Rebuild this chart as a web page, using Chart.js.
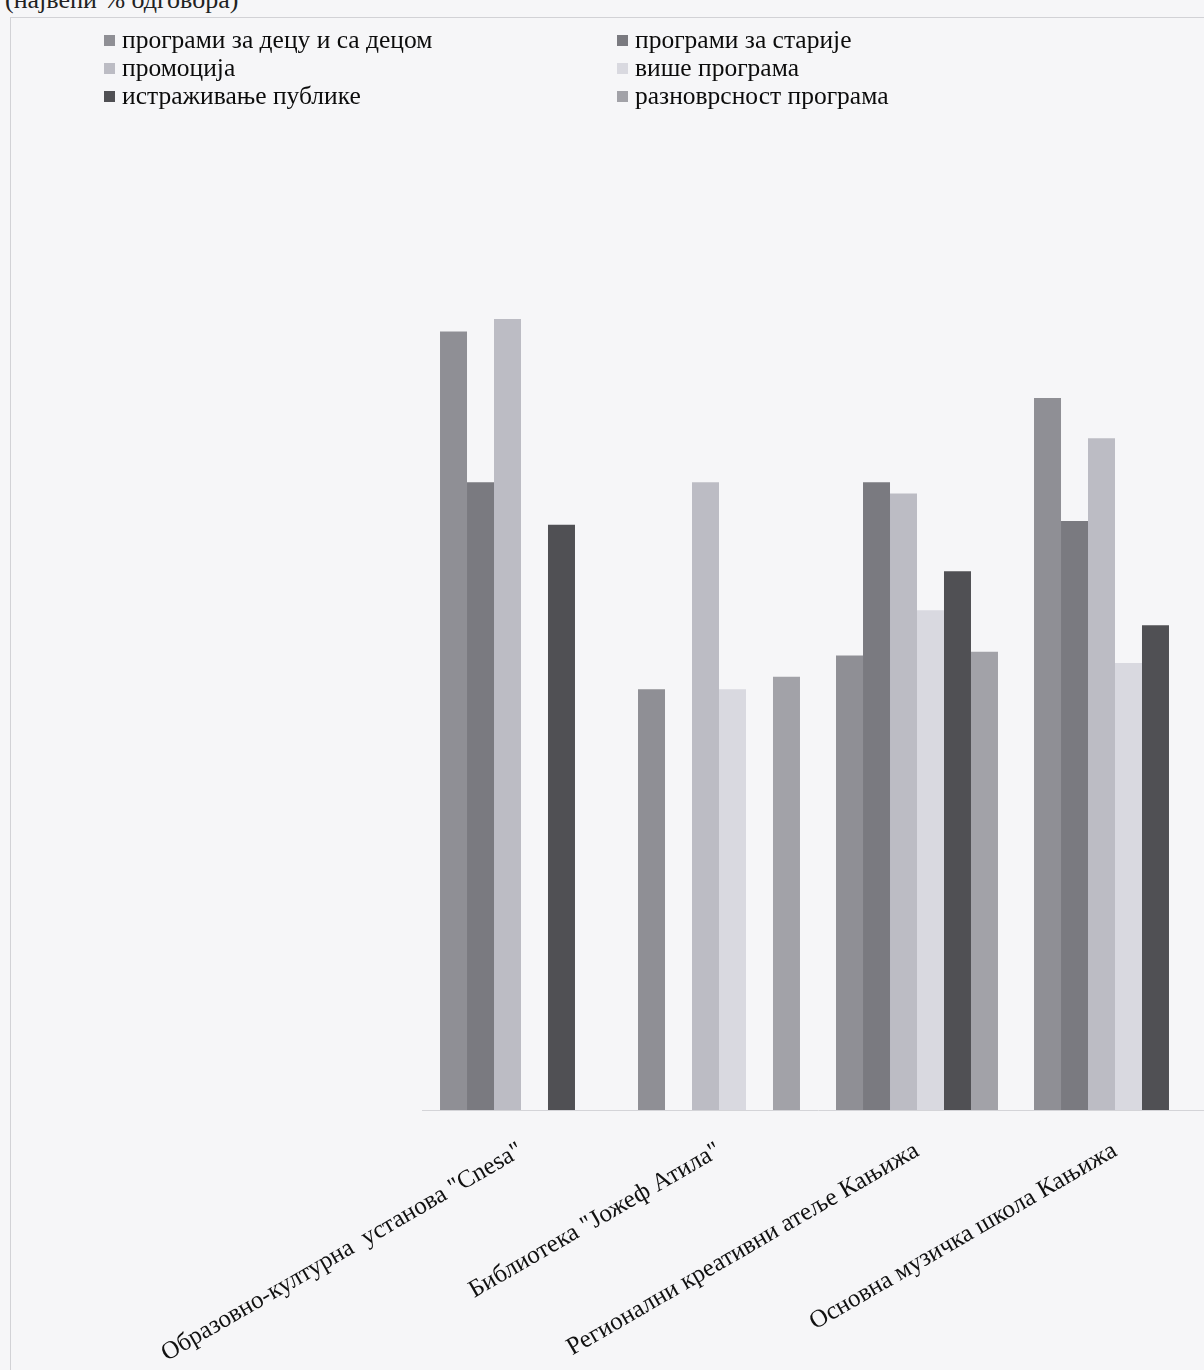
<!DOCTYPE html>
<html>
<head>
<meta charset="utf-8">
<script src="https://cdn.jsdelivr.net/npm/chart.js@4"></script>
<style>
  html, body { margin: 0; padding: 0; width: 1204px; height: 1370px; overflow: hidden; background: #f6f6f8; }
  #wrap { position: absolute; left: 0; top: 0; width: 1204px; height: 1370px; overflow: hidden; }
  #cv { position: absolute; left: 0; top: 0; }
  #frame { position: absolute; left: 10px; top: 17px; width: 1300px; height: 1400px; border: 1px solid #d2d2d6; }
  #title { position: absolute; left: 5px; top: -15px; font: 26px "Liberation Serif", serif; color: #222; white-space: nowrap; }
  .lg { position: absolute; font: 25.5px "Liberation Serif", serif; color: #0c0c0c; white-space: nowrap; line-height: 1; }
  .sq { position: absolute; width: 11px; height: 11px; }
</style>
</head>
<body>
<div id="wrap">
  <div id="frame"></div>
  <div id="title">(највећи % одговора)</div>
  <canvas id="cv" width="1230" height="1370"></canvas>
  <div id="legend"></div>
</div>
<script>
const categories = [
  'Образовно-културна  установа "Cnesa"',
  'Библиотека "Јожеф Атила"',
  'Регионални креативни атеље Кањижа',
  'Основна музичка школа Кањижа'
];
const seriesNames = [
  'програми за децу и са децом',
  'програми за старије',
  'промоција',
  'више програма',
  'истраживање публике',
  'разноврсност програма'
];
const seriesColors = ['#8f8f95', '#7a7a80', '#bcbcc4', '#d9d9e0', '#505054', '#a2a2a8'];
const childrenPrograms = [62.0, 33.5, 36.2, 56.7];
const seniorPrograms   = [50.0, null, 50.0, 46.9];
const promotion        = [63.0, 50.0, 49.1, 53.5];
const morePrograms     = [null, 33.5, 39.8, 35.6];
const audienceResearch = [46.6, null, 42.9, 38.6];
const programDiversity = [null, 34.5, 36.5, null];
const seriesValues = [childrenPrograms, seniorPrograms, promotion, morePrograms, audienceResearch, programDiversity];

// HTML legend (two columns, row-wise order)
const legend = document.getElementById('legend');
const colX = [104, 617];
const rowY = [41, 69, 97];
seriesNames.forEach((name, i) => {
  const col = i % 2, row = Math.floor(i / 2);
  const sq = document.createElement('div');
  sq.className = 'sq';
  sq.style.left = colX[col] + 'px';
  sq.style.top = (rowY[row] - 6) + 'px';
  sq.style.background = seriesColors[i];
  legend.appendChild(sq);
  const t = document.createElement('div');
  t.className = 'lg';
  t.textContent = name;
  t.style.left = (colX[col] + 18) + 'px';
  t.style.top = (rowY[row] - 14) + 'px';
  legend.appendChild(t);
});

new Chart(document.getElementById('cv'), {
  type: 'bar',
  data: {
    labels: categories,
    datasets: seriesNames.map((n, i) => ({
      label: n,
      data: seriesValues[i],
      backgroundColor: seriesColors[i],
      borderWidth: 0,
      categoryPercentage: 0.818,
      barPercentage: 1.0
    }))
  },
  options: {
    responsive: false,
    animation: false,
    devicePixelRatio: 1,
    layout: { padding: { left: 422, right: 16, top: 231, bottom: 0 } },
    plugins: { legend: { display: false }, tooltip: { enabled: false } },
    scales: {
      x: {
        grid: { display: false, drawTicks: false },
        border: { display: true, color: '#d4d4d8', width: 1 },
        ticks: {
          minRotation: 30, maxRotation: 30, autoSkip: false,
          padding: 26,
          color: '#111',
          font: { family: '"Liberation Serif", serif', size: 25 }
        },
        afterFit: (s) => { s.height = 260; s.paddingLeft = 0; s.paddingRight = 0; }
      },
      y: { display: false, min: 0, max: 70 }
    }
  }
});
</script>
</body>
</html>
